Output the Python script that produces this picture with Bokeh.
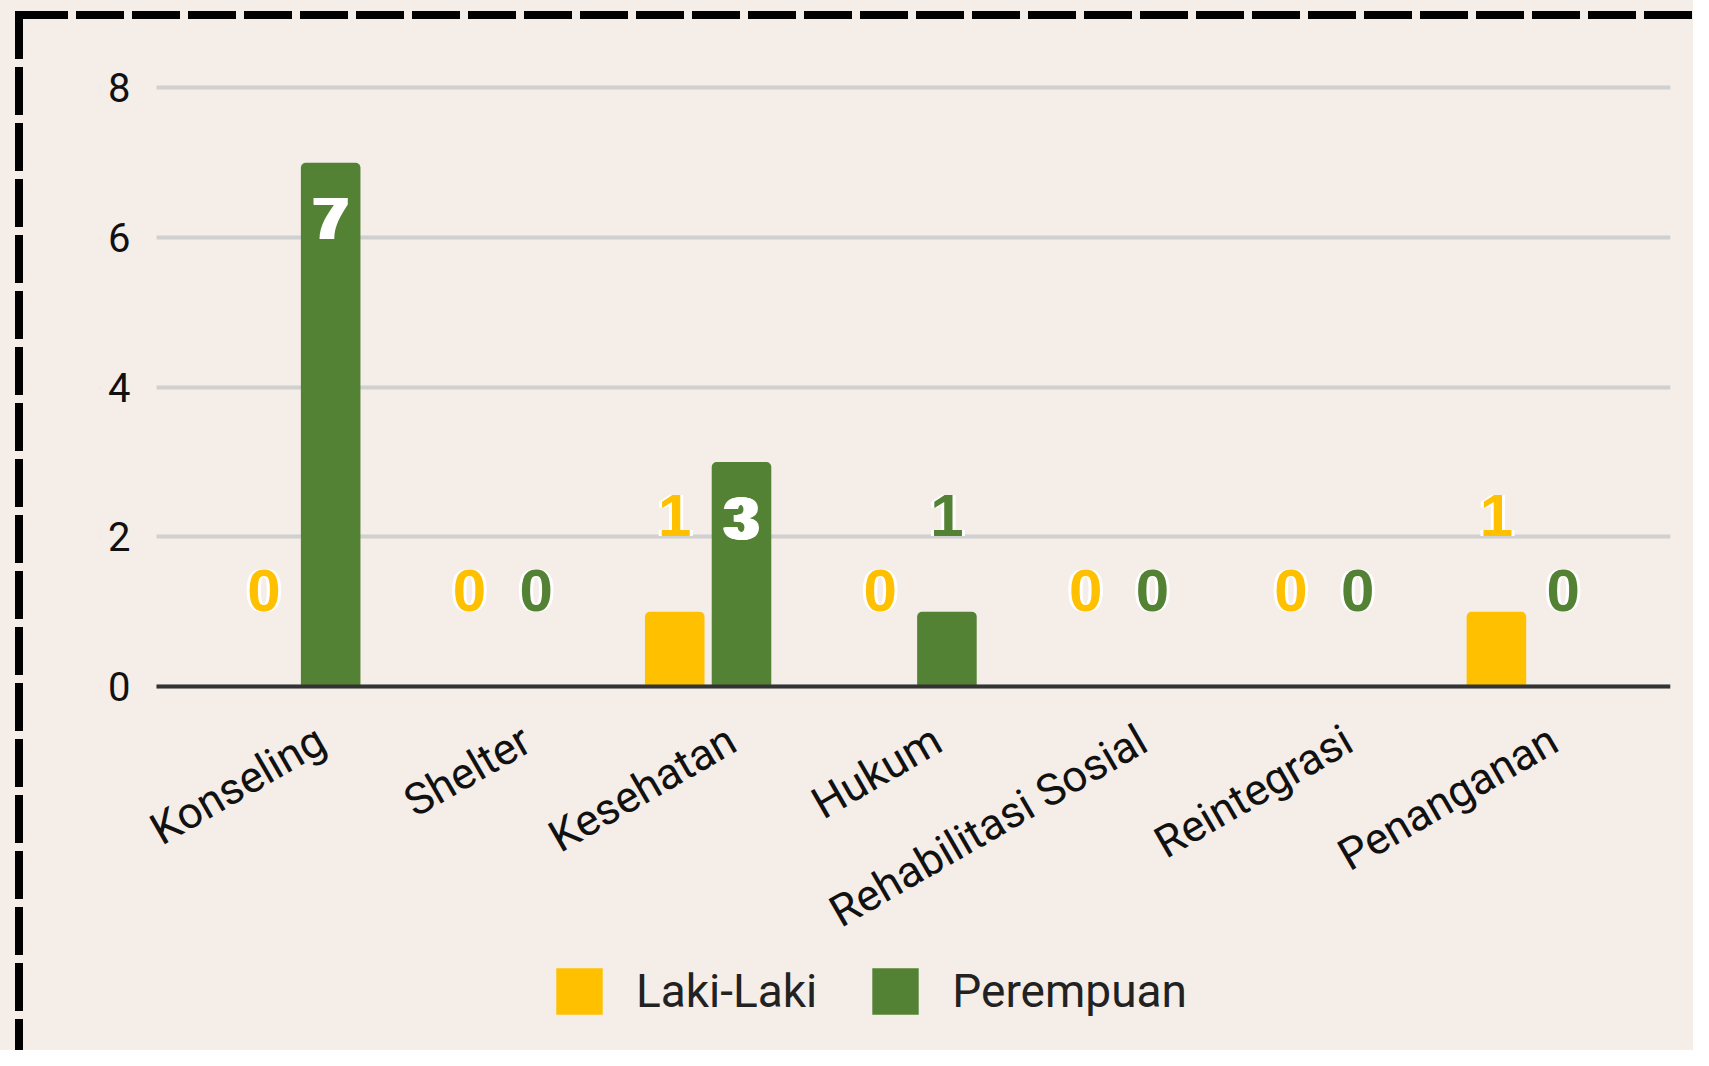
import math
from bokeh.plotting import figure
from bokeh.models import (ColumnDataSource, Range1d, Legend, LegendItem,
                          FixedTicker, BoxAnnotation)
from bokeh.transform import dodge
from bokeh.core.properties import value
from bokeh.embed import file_html
from bokeh.resources import INLINE

# ---- data ----
categories = ["Konseling", "Shelter", "Kesehatan", "Hukum",
              "Rehabilitasi Sosial", "Reintegrasi", "Penanganan"]
laki_laki = [0, 0, 1, 0, 0, 0, 1]
perempuan = [7, 0, 3, 1, 0, 0, 0]
series_names = ["Laki-Laki", "Perempuan"]
y_ticks = [0, 2, 4, 6, 8]

# ---- style ----
BG = "#F5EDE7"
YELLOW = "#FFC000"
GREEN = "#548235"
FONT = "Roboto"
OFF = 0.1625          # dodge of each series from the category centre
BAR_W = 0.29
PAD = 0.185           # padding of the category band on each side
EXTRA_LEFT = 0.273    # extra room on the left so rotated labels are not clipped
LABEL_SHIFT = 0.117   # rotated category labels end a little right of the centre
Y_LO, Y_HI = -4.73, 8.5

pos = list(range(len(categories)))
x_lo, x_hi = -0.5 - PAD, len(categories) - 0.5 + PAD

p = figure(x_range=Range1d(x_lo - EXTRA_LEFT, x_hi), y_range=Range1d(Y_LO, Y_HI),
           width=1693, height=1050, output_backend="svg", toolbar_location=None,
           min_border_left=100, min_border_right=23, min_border_top=50, min_border_bottom=10)

p.background_fill_color = BG
p.border_fill_alpha = 0
p.outline_line_color = None

# dashed frame around the whole chart (CSS background of the figure element)
dash_h = "repeating-linear-gradient(90deg, #000 0px, #000 48px, transparent 48px, transparent 56px)"
dash_v = "repeating-linear-gradient(180deg, #000 0px, #000 48px, transparent 48px, transparent 56px)"
p.styles = {
    "background": (f"{dash_h} 20px 11px / calc(100% - 20px) 8px no-repeat, "
                   f"{dash_v} 15px 11px / 8px calc(100% - 11px) no-repeat, {BG}")
}

# y axis pinned at the left edge of the category band
p.yaxis.fixed_location = x_lo
p.yaxis.ticker = FixedTicker(ticks=y_ticks)
p.yaxis.axis_line_color = None
p.yaxis.major_tick_line_color = None
p.yaxis.minor_tick_line_color = None
p.yaxis.major_tick_out = 0
p.yaxis.major_label_standoff = 26
p.yaxis.major_label_text_font = FONT
p.yaxis.major_label_text_font_size = "40px"
p.yaxis.major_label_text_color = "#111111"

# category axis pinned at y = 0
tick_pos = [i + LABEL_SHIFT for i in pos]
p.xaxis.fixed_location = 0
p.xaxis.bounds = (x_lo, x_hi)
p.xaxis.ticker = FixedTicker(ticks=tick_pos)
p.xaxis.major_label_overrides = {t: c for t, c in zip(tick_pos, categories)}
p.xaxis.axis_line_color = "#333333"
p.xaxis.axis_line_width = 4
p.xaxis.major_tick_line_color = None
p.xaxis.minor_tick_line_color = None
p.xaxis.major_tick_out = 0
p.xaxis.major_label_orientation = math.radians(30)
p.xaxis.major_label_standoff = 50
p.xaxis.major_label_text_font = FONT
p.xaxis.major_label_text_font_size = "44px"
p.xaxis.major_label_text_color = "#111111"

p.xgrid.grid_line_color = None
p.ygrid.grid_line_color = "#D0D0D0"
p.ygrid.grid_line_width = 4

# hide the grid lines left of the category band
p.add_layout(BoxAnnotation(left=x_lo - EXTRA_LEFT, right=x_lo, bottom=Y_LO, top=Y_HI,
                           fill_color=BG, fill_alpha=1, line_color=None, level="underlay"))

source = ColumnDataSource(dict(pos=pos, laki=laki_laki, perempuan=perempuan))

r1 = p.vbar(x=dodge("pos", -OFF), top="laki", width=BAR_W,
            source=source, fill_color=YELLOW, line_color=None, border_radius=(5, 5, 0, 0))
r2 = p.vbar(x=dodge("pos", OFF), top="perempuan", width=BAR_W,
            source=source, fill_color=GREEN, line_color=None, border_radius=(5, 5, 0, 0))

# value labels: inside the bar (white) when tall enough, otherwise above it
halo = [(-3, 0), (3, 0), (0, -3), (0, 3), (-2, -2), (2, 2), (-2, 2), (2, -2)]
for vals, off, col in [(laki_laki, -OFF, YELLOW), (perempuan, OFF, GREEN)]:
    inside = [v >= 2 for v in vals]
    lab = ColumnDataSource(dict(
        pos=pos,
        y=vals,
        text=[str(v) for v in vals],
        color=["white" if i else col for i in inside],
        yoff=[56 if i else -96 for i in inside],
    ))
    for dx, dy in halo:
        p.text(x=dodge("pos", off), y="y", text="text", source=lab,
               x_offset=dx, y_offset="yoff",
               text_color="white", text_font=value("Liberation Sans"), text_font_style="bold",
               text_font_size="60px", text_align="center", text_baseline="middle")
    p.text(x=dodge("pos", off), y="y", text="text", source=lab,
           y_offset="yoff", text_color="color", text_font=value("Liberation Sans"),
           text_font_style="bold", text_font_size="60px", text_align="center",
           text_baseline="middle")

legend = Legend(items=[LegendItem(label=series_names[0], renderers=[r1]),
                       LegendItem(label=series_names[1], renderers=[r2])],
                location=(450, 20), orientation="horizontal",
                glyph_width=58, glyph_height=58, label_height=58, label_standoff=28,
                spacing=49, padding=0, margin=0, border_line_color=None,
                background_fill_alpha=0, label_text_font=FONT,
                label_text_font_size="46px", label_text_color="#222222")
p.add_layout(legend)

open("out.html", "w").write(file_html(p, INLINE))
